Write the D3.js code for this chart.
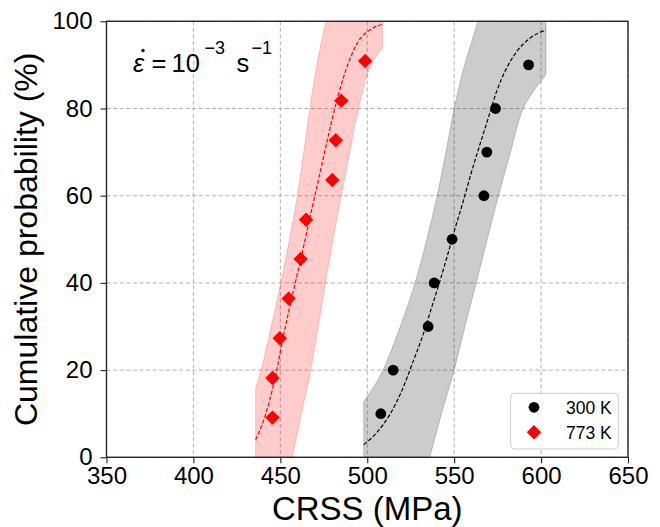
<!DOCTYPE html>
<html><head><meta charset="utf-8">
<script src="https://cdn.jsdelivr.net/npm/d3@7"></script>
<style>
body{margin:0;background:#fff}
svg{display:block}
text{font-family:"Liberation Sans",Arial,Helvetica,sans-serif;fill:#000}
</style>
</head><body>
<svg id="chart" width="660" height="527"></svg>
<script>
// ---- data ----
const xTicks = [350, 400, 450, 500, 550, 600, 650];
const yTicks = [0, 20, 40, 60, 80, 100];
const seriesLabels = ["300 K", "773 K"];

const crss300 = [507.8, 514.9, 535, 538.5, 548.8, 567.1, 568.8, 573.8, 592.8];
const prob300 = [10, 20, 30, 40, 50, 60, 70, 80, 90];
const crss773 = [445.5, 445.5, 449.7, 454.8, 461.7, 464.8, 479.9, 481.9, 485.1, 498.8];
const prob773 = [9.1, 18.2, 27.3, 36.4, 45.5, 54.5, 63.6, 72.7, 81.8, 90.9];

// fitted curves
const fit300X = [498, 505.3, 513, 519.7, 526.4, 532.1, 536.9, 541.7, 546.2, 550.6, 555.2, 560, 564.8, 569.6, 574.4, 580.1, 585.9, 593.6, 602.8];
const fit300P = [2.9, 5.6, 9.8, 15.1, 22, 28.1, 34.2, 40.3, 46.4, 52.6, 58.7, 65.5, 71.7, 77.8, 83.9, 89.2, 93, 96.1, 98];
const fit773X = [435.8, 441, 447, 451.5, 456.5, 461.8, 466.9, 472, 477, 482.4, 489.6, 494.7, 501.4, 508.7];
const fit773P = [4, 9.2, 18.2, 27.3, 36.4, 45.5, 54.7, 63.8, 72.7, 81.7, 90.9, 95.3, 98, 99.3];

// band edges: upper-probability edge (left) and lower-probability edge (right)
const band300UpX = [498, 503.5, 509.1, 519, 527.5, 534.3, 540.2, 545.3, 550, 556, 561, 564];
const band300UpP = [12.8, 16, 20, 30, 40, 50, 60, 70, 80, 90, 96.5, 100.5];
const band300LoX = [536, 542.7, 550, 556.2, 562.7, 569, 575.5, 582.4, 589.7, 596, 602.8];
const band300LoP = [0, 10, 20, 30, 40, 50, 60, 70, 80, 84.2, 87.7];

const band773UpX = [435.8, 439, 444.8, 450.3, 455.3, 459.8, 463.5, 467, 471, 476.5];
const band773UpP = [15.9, 20, 30, 40, 50, 60, 70, 80, 90, 100.5];
const band773LoX = [456.9, 462.1, 467.5, 471.8, 475.9, 480.3, 485, 489.9, 494.9, 502.2, 508.7];
const band773LoP = [0, 10, 20, 30, 40, 50, 60, 70, 80, 90, 93.8];

// ---- layout ----
const L = 106.5, R = 628, T = 21.3, B = 457.3;
const svg = d3.select("#chart");
const x = d3.scaleLinear().domain([350, 650]).range([L, R]);
const y = d3.scaleLinear().domain([0, 100]).range([B, T]);

svg.append("defs").append("clipPath").attr("id", "plotclip")
  .append("rect").attr("x", L).attr("y", T).attr("width", R - L).attr("height", B - T);

// grid
const grid = svg.append("g");
grid.selectAll("line.gx").data(xTicks).join("line")
  .attr("x1", d => x(d)).attr("x2", d => x(d)).attr("y1", T).attr("y2", B)
  .attr("stroke", "#b0b0b0").attr("stroke-width", 1).attr("stroke-dasharray", "4,2.6");
grid.selectAll("line.gy").data(yTicks).join("line")
  .attr("y1", d => y(d)).attr("y2", d => y(d)).attr("x1", L).attr("x2", R)
  .attr("stroke", "#b0b0b0").attr("stroke-width", 1).attr("stroke-dasharray", "4,2.6");

const plot = svg.append("g").attr("clip-path", "url(#plotclip)");

const smooth = d3.line().x(d => x(d[0])).y(d => y(d[1])).curve(d3.curveCatmullRom.alpha(0.5));
function bandPath(ux, up, lx, lp) {
  const U = ux.map((v, i) => [v, up[i]]);
  const Lo = lx.map((v, i) => [v, lp[i]]).reverse();
  const xmin = ux[0], xmax = lx[lx.length - 1];
  let s = "M" + x(xmin) + "," + y(0) + "L" + smooth(U).slice(1);
  s += "L" + x(xmax) + "," + y(up[up.length - 1]);
  s += "L" + smooth(Lo).slice(1);
  return s + "Z";
}
plot.append("path").attr("d", bandPath(band773UpX, band773UpP, band773LoX, band773LoP))
  .attr("fill", "rgba(255,0,0,0.2)").attr("stroke", "rgba(255,0,0,0.2)").attr("stroke-width", 1);
plot.append("path").attr("d", bandPath(band300UpX, band300UpP, band300LoX, band300LoP))
  .attr("fill", "rgba(0,0,0,0.2)").attr("stroke", "rgba(0,0,0,0.2)").attr("stroke-width", 1);

const fitLine = d3.line().x(d => x(d[0])).y(d => y(d[1])).curve(d3.curveMonotoneX);
plot.append("path").datum(fit773X.map((v, i) => [v, fit773P[i]])).attr("d", fitLine)
  .attr("fill", "none").attr("stroke", "#ff0000").attr("stroke-width", 1.2).attr("stroke-dasharray", "4,2");
plot.append("path").datum(fit300X.map((v, i) => [v, fit300P[i]])).attr("d", fitLine)
  .attr("fill", "none").attr("stroke", "#000").attr("stroke-width", 1.2).attr("stroke-dasharray", "4,2");

// markers
const diamond = d3.symbol().type(d3.symbolSquare).size(104);
plot.selectAll("circle.p300").data(crss300.map((v, i) => [v, prob300[i]])).join("circle")
  .attr("cx", d => x(d[0])).attr("cy", d => y(d[1])).attr("r", 5.4).attr("fill", "#000");
plot.selectAll("path.p773").data(crss773.map((v, i) => [v, prob773[i]])).join("path")
  .attr("d", diamond).attr("fill", "#ff0000")
  .attr("transform", d => `translate(${x(d[0])},${y(d[1])}) rotate(45)`);

// axes
const xAxis = d3.axisBottom(x).tickValues(xTicks).tickSize(6).tickPadding(3.5).tickFormat(d3.format("d"));
const yAxis = d3.axisLeft(y).tickValues(yTicks).tickSize(6).tickPadding(8).tickFormat(d3.format("d"));
const gx = svg.append("g").attr("transform", `translate(0,${B})`).call(xAxis);
const gy = svg.append("g").attr("transform", `translate(${L},0)`).call(yAxis);
[gx, gy].forEach(g => {
  g.select(".domain").remove();
  g.selectAll(".tick line").attr("stroke", "#222").attr("stroke-width", 1.1);
  g.selectAll(".tick text").attr("font-size", 24).attr("fill", "#000")
    .style("font-family", '"Liberation Sans",Arial,sans-serif');
});

// frame
svg.append("rect").attr("x", L).attr("y", T).attr("width", R - L).attr("height", B - T)
  .attr("fill", "none").attr("stroke", "#262626").attr("stroke-width", 1.4);

// axis labels
svg.append("text").attr("x", (L + R) / 2).attr("y", 520).attr("text-anchor", "middle")
  .attr("font-size", 33).text("CRSS (MPa)");
svg.append("text").attr("transform", `translate(37,${(T + B) / 2}) rotate(-90)`)
  .attr("text-anchor", "middle").attr("font-size", 32).text("Cumulative probability (%)");

// annotation: strain rate
const ann = svg.append("g");
ann.append("text").attr("x", 133).attr("y", 71.7).attr("font-size", 25.5).attr("font-style", "italic").text("ε");
ann.append("circle").attr("cx", 143).attr("cy", 50.5).attr("r", 1.7).attr("fill", "#000");
ann.append("text").attr("x", 151.5).attr("y", 71.7).attr("font-size", 25.5).text("=");
ann.append("text").attr("x", 171.5).attr("y", 71.7).attr("font-size", 25.5).text("10");
ann.append("text").attr("x", 204.5).attr("y", 53.5).attr("font-size", 18).text("−3");
ann.append("text").attr("x", 236.5).attr("y", 71.7).attr("font-size", 25.5).text("s");
ann.append("text").attr("x", 251.5).attr("y", 53.5).attr("font-size", 18).text("−1");

// legend
const lg = svg.append("g");
lg.append("rect").attr("x", 510.7).attr("y", 393.3).attr("width", 107.6).attr("height", 55.7).attr("rx", 4)
  .attr("fill", "rgba(255,255,255,0.8)").attr("stroke", "#cccccc").attr("stroke-width", 1);
lg.append("circle").attr("cx", 534).attr("cy", 407.3).attr("r", 5.4).attr("fill", "#000");
lg.append("path").attr("d", diamond).attr("fill", "#ff0000").attr("transform", "translate(534,432.3) rotate(45)");
lg.append("text").attr("x", 566).attr("y", 407.3).attr("dy", "0.36em").attr("font-size", 17.5).text(seriesLabels[0]);
lg.append("text").attr("x", 566).attr("y", 432.3).attr("dy", "0.36em").attr("font-size", 17.5).text(seriesLabels[1]);
</script>
</body></html>
